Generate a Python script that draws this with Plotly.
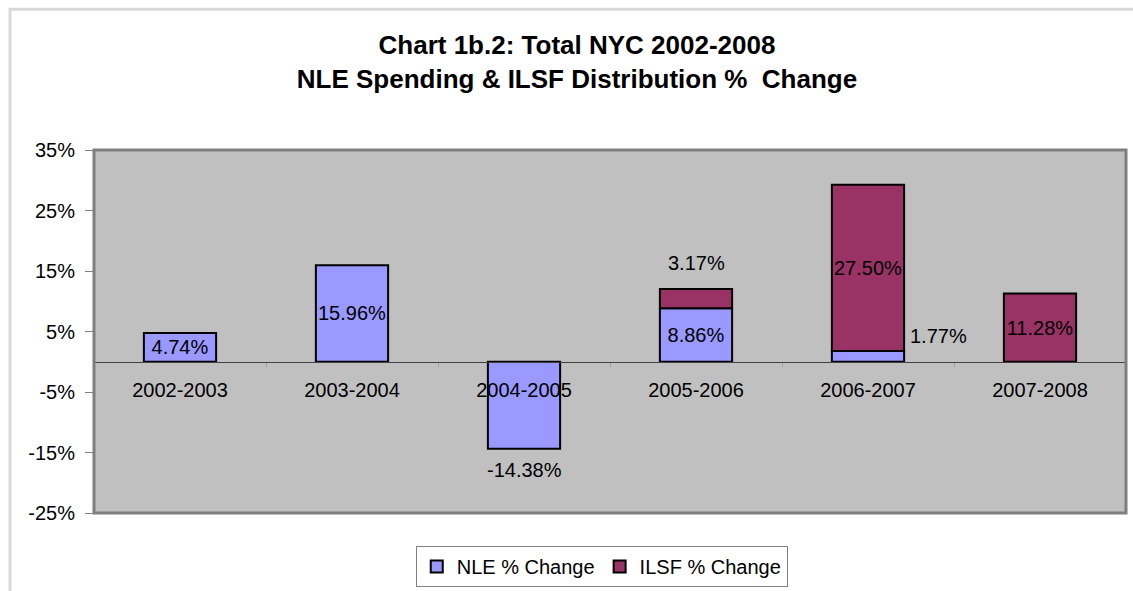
import plotly.graph_objects as go

# Data
periods = ['2002-2003', '2003-2004', '2004-2005', '2005-2006', '2006-2007', '2007-2008']
nle_change = [4.74, 15.96, -14.38, 8.86, 1.77, None]
ilsf_change = [None, None, None, 3.17, 27.50, 11.28]
y_tick_vals = [-25, -15, -5, 5, 15, 25, 35]
y_tick_text = ['-25%', '-15%', '-5%', '5%', '15%', '25%', '35%']

COLOURS = {
    'nle': '#9999FF',
    'ilsf': '#993366',
    'plot_bg': '#C0C0C0',
    'frame': '#7F7F7F',
    'outer': '#D9D9D9',
    'text': '#000000',
}
FONT = 'Liberation Sans, Arial, sans-serif'

# labels that Excel put outside the bars are done as annotations
nle_pos = ['inside', 'inside', 'none', 'inside', 'none', 'none']
ilsf_pos = ['none', 'none', 'none', 'none', 'inside', 'inside']

fig = go.Figure()

fig.add_trace(go.Bar(
    x=periods, y=nle_change, name='NLE % Change',
    marker=dict(color=COLOURS['nle'], line=dict(color='black', width=2)),
    texttemplate='%{y:.2f}%', textposition=nle_pos, textangle=0,
    insidetextanchor='middle', constraintext='none',
    textfont=dict(size=20, color=COLOURS['text'], family=FONT),
))
fig.add_trace(go.Bar(
    x=periods, y=ilsf_change, name='ILSF % Change',
    marker=dict(color=COLOURS['ilsf'], line=dict(color='black', width=2)),
    texttemplate='%{y:.2f}%', textposition=ilsf_pos, textangle=0,
    insidetextanchor='middle', constraintext='none',
    textfont=dict(size=20, color=COLOURS['text'], family=FONT),
))

# outside labels
label_font = dict(size=20, color=COLOURS['text'], family=FONT)
fig.add_annotation(x=periods[2], y=nle_change[2], text=f'{nle_change[2]:.2f}%',
                   showarrow=False, yanchor='middle', yshift=-21, font=label_font)
fig.add_annotation(x=periods[3], y=nle_change[3] + ilsf_change[3], text=f'{ilsf_change[3]:.2f}%',
                   showarrow=False, yanchor='middle', yshift=26, font=label_font)
fig.add_annotation(x=periods[4], y=nle_change[4], text=f'{nle_change[4]:.2f}%',
                   showarrow=False, xanchor='left', yanchor='middle', xshift=40, yshift=15,
                   font=label_font)

# plot area frame and outer chart border
fig.add_shape(type='rect', xref='paper', yref='paper', x0=0, x1=1, y0=0, y1=1,
              line=dict(color=COLOURS['frame'], width=3), layer='above')
fig.add_shape(type='rect', xref='paper', yref='paper', x0=-0.0814, x1=1.2, y0=-0.4, y1=1.388,
              line=dict(color=COLOURS['outer'], width=3), layer='below')

fig.update_layout(
    width=1133, height=591,
    barmode='relative', bargap=0.58,
    margin=dict(l=94, r=7, t=150, b=78, autoexpand=False),
    paper_bgcolor='white',
    plot_bgcolor=COLOURS['plot_bg'],
    font=dict(family=FONT, color=COLOURS['text'], size=20),
    title=dict(
        text='<b>Chart 1b.2: Total NYC 2002-2008<br>NLE Spending & ILSF Distribution %  Change</b>',
        font=dict(size=26, family=FONT, color=COLOURS['text']),
        x=0.468, xref='paper', xanchor='center',
        y=0.908, yref='container', yanchor='top',
    ),
    showlegend=True,
    legend=dict(
        orientation='h', x=0.492, xanchor='center',
        y=(591 - 546) / 591, yref='container', yanchor='top',
        bgcolor='white', bordercolor='#808080', borderwidth=1,
        font=dict(size=20, family=FONT), traceorder='normal', itemwidth=30,
    ),
)

fig.update_xaxes(
    anchor='free', position=25 / 60,
    showline=True, linecolor='#404040', linewidth=1,
    ticks='outside', tickson='boundaries', ticklen=4, tickcolor='#A0A0A0',
    ticklabelstandoff=10,
    tickfont=dict(size=20, family=FONT),
    showgrid=False, fixedrange=True,
)
fig.update_yaxes(
    range=[-25, 35], tickvals=y_tick_vals, ticktext=y_tick_text,
    domain=[0, 1],
    ticks='outside', ticklen=8, tickcolor='#808080', ticklabelstandoff=6,
    tickfont=dict(size=20, family=FONT),
    showgrid=False, zeroline=False, fixedrange=True,
)

# page body has a default 8px margin; drop it so the chart sits at 0,0
fig.write_html('out.html', config={'displayModeBar': False},
               post_script="document.body.style.margin='0';")
